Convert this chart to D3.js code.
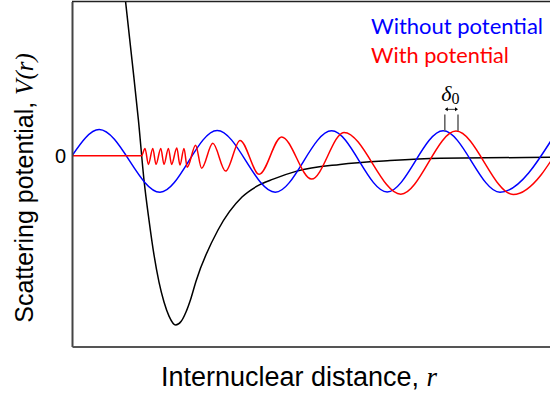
<!DOCTYPE html>
<html><head><meta charset="utf-8">
<script src="https://cdn.jsdelivr.net/npm/d3@7"></script>
<style>body{margin:0;background:#fff}svg{display:block}</style>
</head><body><svg id="c" width="550" height="396"></svg>
<script>
// Data (arbitrary units: r along x, V along y)
const blueX = [0, 0.68, 2.2, 3.63, 5.08, 6.49, 7.88, 9.28, 10.7, 12.13];
const blueY = [0, 0.82, -1.14, 0.79, -1.14, 0.78, -1.13, 0.78, -1.14, 0.78];

const redX = [0, 1.74, 1.825, 1.91, 2.02, 2.1, 2.22, 2.3, 2.41, 2.49, 2.62, 2.7, 2.8, 2.88,
              3.09, 3.24, 3.52, 3.84, 4.2, 4.68, 5.24, 5.99, 6.8, 8.22, 9.6, 11.03, 12.43];
const redY = [0, 0, 0.23, -0.27, 0.23, -0.27, 0.23, -0.27, 0.23, -0.27, 0.24, -0.29, 0.23, -0.36,
              0.33, -0.39, 0.39, -0.48, 0.48, -0.58, 0.59, -0.73, 0.73, -1.2, 0.77, -1.21, 0.77];

const potX = [1.34, 1.5, 1.66, 1.8, 1.925, 2.05, 2.175, 2.3, 2.425, 2.59, 2.725, 2.85, 2.975, 3.1,
              3.65, 4.25, 4.625, 5.03, 5.62, 6.7, 7.95, 9.2, 11.95];
const potY = [4.81, 2.99, 1.12, -0.76, -2.01, -3.1, -3.95, -4.57, -5.01, -5.29, -5.18, -4.88, -4.45, -3.92,
              -2.32, -1.29, -0.95, -0.73, -0.48, -0.27, -0.15, -0.08, -0.05];

const yTickValues = [0];
const yTickLabels = ["0"];
const legendLabels = ["Without potential", "With potential"];
const legendColors = ["#0000ff", "#ff0000"];
const deltaLabel = "δ";
const deltaSub = "0";
const deltaMarkX = [9.32, 9.65];

const W = 550, H = 396;
const m = {left: 72, top: 1.5, right: -10, bottom: 49.5};
const svg = d3.select("#c");

const x = d3.scaleLinear().domain([0, 12]).range([m.left, m.left + 480]);
const y = d3.scaleLinear().domain([-5.96, 4.82]).range([H - m.bottom, m.top]);

// clip
svg.append("clipPath").attr("id", "clip").append("rect")
  .attr("x", m.left).attr("y", m.top).attr("width", W - m.left + 20).attr("height", H - m.bottom - m.top);

// frame top
svg.append("line").attr("x1", m.left).attr("x2", W + 5).attr("y1", m.top).attr("y2", m.top)
  .attr("stroke", "#222").attr("stroke-width", 1.5);

const g = svg.append("g").attr("clip-path", "url(#clip)");

const line = (xs, ys, curve) => d3.line().x(i => x(xs[i])).y(i => y(ys[i])).curve(curve)(d3.range(xs.length));

g.append("path").attr("d", line(potX, potY, d3.curveMonotoneX))
  .attr("fill", "none").attr("stroke", "#000").attr("stroke-width", 1.5);
g.append("path").attr("d", line(blueX, blueY, d3.curveMonotoneX))
  .attr("fill", "none").attr("stroke", "#0000ff").attr("stroke-width", 1.5);
g.append("path").attr("d", line(redX, redY, d3.curveMonotoneX))
  .attr("fill", "none").attr("stroke", "#ff0000").attr("stroke-width", 1.5);

// axes
const yAxis = svg.append("g").attr("transform", `translate(${m.left},0)`)
  .call(d3.axisLeft(y).tickValues(yTickValues).tickFormat((d, i) => yTickLabels[i]).tickSize(0).tickSizeOuter(0).tickPadding(6));
yAxis.select(".domain").attr("stroke", "#444").attr("stroke-width", 2);
yAxis.selectAll("text").attr("font-family", "Liberation Sans, Arial, sans-serif").attr("font-size", 20).attr("fill", "#000");

const xAxis = svg.append("g").attr("transform", `translate(0,${H - m.bottom})`)
  .call(d3.axisBottom(x).tickValues([]).tickSizeOuter(0));
xAxis.select(".domain").attr("stroke", "#555").attr("stroke-width", 2);

// delta marker
const dm = svg.append("g");
deltaMarkX.forEach(v => {
  dm.append("line").attr("x1", x(v)).attr("x2", x(v)).attr("y1", y(1.29)).attr("y2", y(0.77))
    .attr("stroke", "#666").attr("stroke-width", 1.6);
});
const ay = y(1.45);
dm.append("line").attr("x1", x(deltaMarkX[0]) + 1).attr("x2", x(deltaMarkX[1]) - 1).attr("y1", ay).attr("y2", ay)
  .attr("stroke", "#000").attr("stroke-width", 0.8);
dm.append("path").attr("d", `M${x(deltaMarkX[0])},${ay} l3,-2 v4 z M${x(deltaMarkX[1])},${ay} l-3,-2 v4 z`).attr("fill", "#000");
const dt = dm.append("text").attr("x", (x(deltaMarkX[0]) + x(deltaMarkX[1])) / 2 - 1).attr("y", 101)
  .attr("text-anchor", "middle").attr("font-family", "Liberation Serif, Times New Roman, serif").attr("font-size", 22);
dt.append("tspan").attr("font-style", "italic").text(deltaLabel);
dt.append("tspan").attr("font-size", 16).attr("dy", 3).text(deltaSub);

// legend
const legendW = [172, 138];
legendLabels.forEach((t, i) => {
  svg.append("text").attr("x", 371).attr("y", 34 + i * 29).attr("fill", legendColors[i])
    .attr("font-family", "Lato, Carlito, sans-serif").attr("font-size", 21)
    .attr("textLength", legendW[i]).attr("lengthAdjust", "spacingAndGlyphs").text(t);
});

// axis titles
const xt = svg.append("text").attr("x", 299).attr("y", 386).attr("text-anchor", "middle")
  .attr("font-family", "Liberation Sans, Arial, sans-serif").attr("font-size", 27).attr("fill", "#000");
xt.append("tspan").text("Internuclear distance, ");
xt.append("tspan").attr("font-family", "Liberation Serif, Times New Roman, serif").attr("font-style", "italic").text("r");

const yt = svg.append("text").attr("transform", "translate(33,188) rotate(-90)").attr("text-anchor", "middle")
  .attr("font-family", "Liberation Sans, Arial, sans-serif").attr("font-size", 25).attr("fill", "#000");
yt.append("tspan").text("Scattering potential, ");
yt.append("tspan").attr("font-family", "Liberation Serif, Times New Roman, serif").attr("font-style", "italic").text("V(r)");
</script>
</body></html>
